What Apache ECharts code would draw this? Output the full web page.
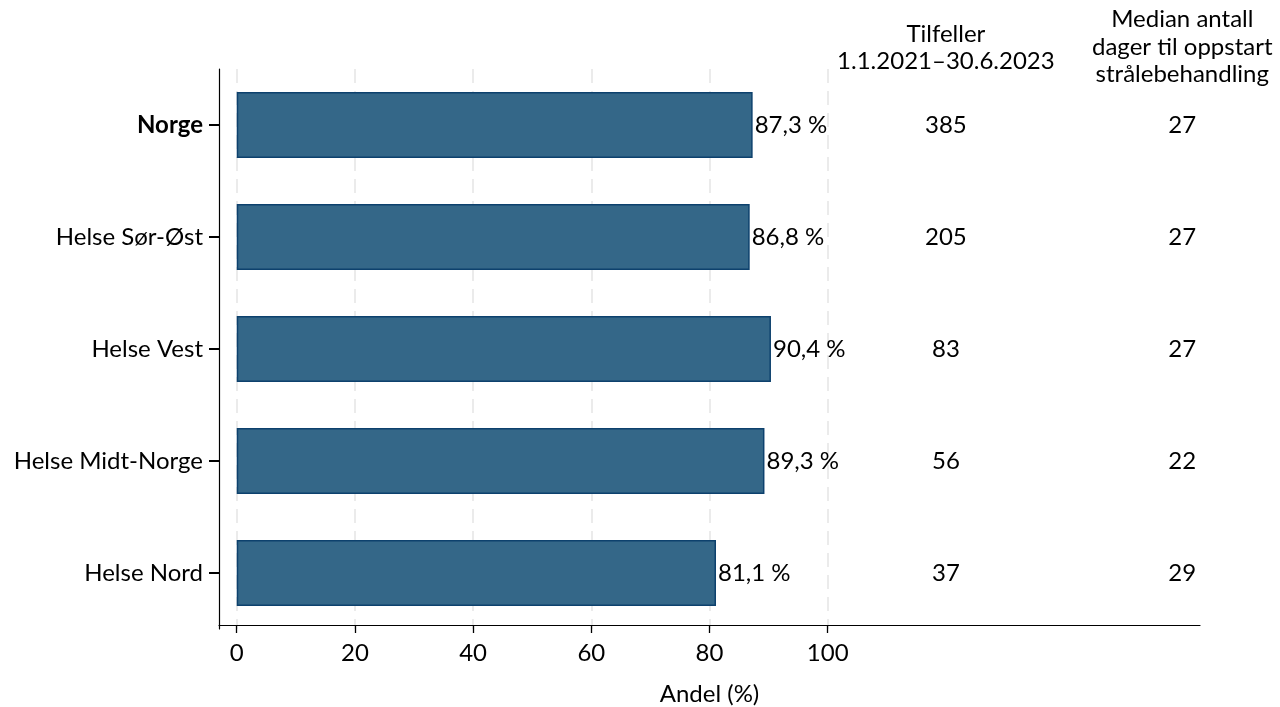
<!DOCTYPE html>
<html><head><meta charset="utf-8">
<script src="https://cdn.jsdelivr.net/npm/echarts@6/dist/echarts.min.js"></script>
<style>html,body{margin:0;padding:0;background:#fff}#c{width:1280px;height:707px}</style>
</head><body><div id="c"></div>
<script>
const categories = ['Norge', 'Helse Sør-Øst', 'Helse Vest', 'Helse Midt-Norge', 'Helse Nord'];
const andel = [87.3, 86.8, 90.4, 89.3, 81.1];
const tilfeller = [385, 205, 83, 56, 37];
const median = [27, 27, 27, 22, 29];
const xTicks = [0, 20, 40, 60, 80, 100];
const colTilfellerX = 120;
const colMedianX = 160;
const headerTilfeller = 'Tilfeller\n1.1.2021–30.6.2023';
const headerMedian = 'Median antall\ndager til oppstart\nstrålebehandling';

const FONT = 'Lato';
const FS = 24;
const chart = echarts.init(document.getElementById('c'), null, {renderer: 'canvas'});
const fmt = v => v.toFixed(1).replace('.', ',') + ' %';

chart.setOption({
  animation: false,
  textStyle: {fontFamily: FONT, color: '#000'},
  grid: {left: 219, right: 80, top: 69, height: 560, containLabel: false, outerBoundsMode: 'none'},
  xAxis: {
    type: 'value', min: -3, max: 163, offset: -4,
    name: 'Andel (%)', nameLocation: 'middle', nameGap: 57,
    nameTextStyle: {fontFamily: FONT, fontSize: FS, color: '#000'},
    axisLine: {show: true, onZero: false, lineStyle: {color: '#000', width: 1.2}},
    axisTick: {show: true, length: 8, customValues: xTicks, lineStyle: {color: '#000', width: 1.3}},
    axisLabel: {customValues: xTicks, fontFamily: FONT, fontSize: FS, color: '#000', margin: 16},
    splitLine: {show: true, lineStyle: {color: '#ebebeb', type: [14, 8], width: 2}}
  },
  yAxis: {
    type: 'category', data: categories, inverse: true,
    axisLine: {show: true, onZero: false, lineStyle: {color: '#000', width: 1.2}},
    axisTick: {show: true, alignWithLabel: true, inside: false, length: 10, lineStyle: {color: '#000', width: 2}},
    axisLabel: {
      fontFamily: FONT, fontSize: FS, color: '#000', margin: 16,
      formatter: (v) => v === 'Norge' ? '{b|' + v + '}' : v,
      rich: {b: {fontWeight: 'bold', fontFamily: FONT, fontSize: FS, color: '#000'}}
    },
    splitLine: {show: false}
  },
  series: [
    {
      type: 'bar', data: andel, barWidth: 66,
      itemStyle: {color: '#346788', borderColor: '#0d416d', borderWidth: 1.5},
      label: {show: true, position: 'right', distance: 2, formatter: p => fmt(p.value),
              fontFamily: FONT, fontSize: FS, color: '#000'},
      z: 3
    },
    {
      type: 'scatter', symbolSize: 0, itemStyle: {opacity: 1},
      data: categories.map((c, i) => [colTilfellerX, c, tilfeller[i]]),
      label: {show: true, position: 'inside', formatter: p => String(p.value[2]),
              fontFamily: FONT, fontSize: FS, color: '#000', opacity: 1}
    },
    {
      type: 'scatter', symbolSize: 0, itemStyle: {opacity: 1},
      data: categories.map((c, i) => [colMedianX, c, median[i]]),
      label: {show: true, position: 'inside', formatter: p => String(p.value[2]),
              fontFamily: FONT, fontSize: FS, color: '#000', opacity: 1}
    }
  ]
});

const xT = chart.convertToPixel({xAxisIndex: 0}, colTilfellerX);
const xM = chart.convertToPixel({xAxisIndex: 0}, colMedianX);
chart.setOption({
  graphic: [
    {type: 'text', x: xT, y: 21, style: {text: headerTilfeller, fontFamily: FONT, fontSize: FS,
      lineHeight: 27, fill: '#000', align: 'center', verticalAlign: 'top'}},
    {type: 'text', x: xM, y: 6, style: {text: headerMedian, fontFamily: FONT, fontSize: FS,
      lineHeight: 27.5, fill: '#000', align: 'center', verticalAlign: 'top'}}
  ]
});
</script>
</body></html>
